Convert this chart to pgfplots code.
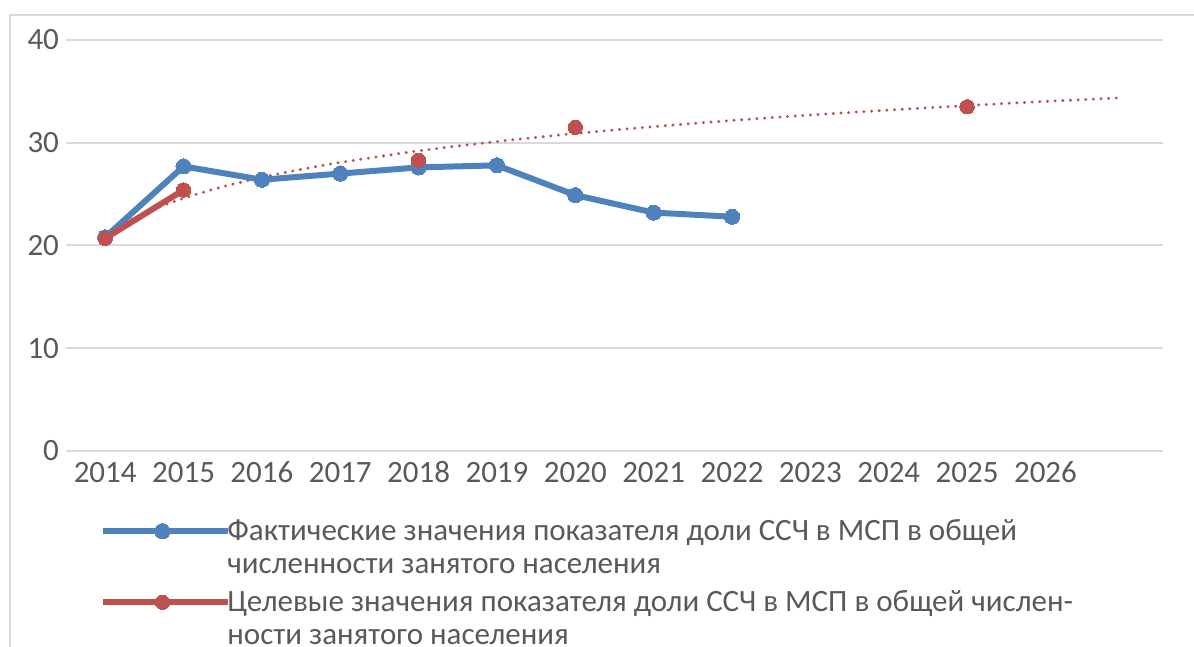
\documentclass[border=0pt]{standalone}
\usepackage{pgfplots}
\pgfplotsset{compat=1.18}
\usepackage{fontspec}
\setmainfont{Carlito}
\definecolor{txt}{HTML}{595959}
\definecolor{gridc}{HTML}{D9D9D9}
\definecolor{blue1}{HTML}{4F81BD}
\definecolor{red1}{HTML}{C0504D}
\begin{document}
\begin{tikzpicture}
\useasboundingbox (0,0) rectangle (597pt,323.5pt);
\draw[gridc, line width=1pt] (5pt,0) -- (5pt,316pt) -- (597pt,316pt);
\begin{axis}[
  at={(33pt,98pt)}, anchor=south west,
  scale only axis, width=548.5pt, height=205.5pt,
  xmin=-0.5, xmax=13.5, ymin=0, ymax=40,
  xtick={0,1,2,3,4,5,6,7,8,9,10,11,12},
  xticklabels={2014,2015,2016,2017,2018,2019,2020,2021,2022,2023,2024,2025,2026},
  ytick={0,10,20,30,40},
  axis line style={draw=none},
  major tick length=0pt,
  ymajorgrids, grid style={gridc, line width=1pt},
  tick label style={font=\fontsize{15.5}{18}\selectfont, text=txt},
  xticklabel style={text height=10pt, text depth=0pt, yshift=-2pt},
  /pgf/number format/assume math mode=true,
  clip=false,
  legend style={at={(axis description cs:0.0337,-0.1547)}, anchor=north west,
    draw=none, fill=none, inner sep=0pt,
    font=\fontsize{15.5}{16.5}\selectfont, text=txt,
    cells={anchor=west, align=left, inner xsep=0.5pt}, row sep=3pt},
  legend image code/.code={
    \path[draw=none, fill=none] (0pt,-12pt) rectangle (60pt,12pt);
    \draw[#1, overlay, mark repeat=2, mark phase=2] plot coordinates {(0pt,8.2pt) (29.5pt,8.2pt) (62.5pt,8.2pt)};},
]
% trend line (logarithmic)
\addplot[forget plot, red1, line width=1.65pt, line cap=round, dash pattern=on 0pt off 3.83pt, smooth] coordinates {
 (0,21.10) (0.25,22.22) (0.5,23.14) (0.75,23.92) (1,24.59) (1.5,25.72) (2,26.63) (2.5,27.41)
 (3,28.08) (4,29.21) (5,30.12) (6,30.90) (7,31.57) (8,32.17) (9,32.70) (10,33.18)
 (11,33.62) (12,34.02) (13,34.39)};
\addplot[blue1, line width=3pt, mark=*, mark size=3.8pt, mark options={fill=blue1, draw=blue1, line width=0pt}] coordinates {
 (0,20.8) (1,27.7) (2,26.4) (3,27.0) (4,27.6) (5,27.8) (6,24.9) (7,23.2) (8,22.8)};
\addlegendentry{Фактические значения показателя доли ССЧ в МСП в общей\\численности занятого населения}
\addplot[red1, line width=3pt, mark=*, mark size=3.6pt, mark options={fill=red1, draw=red1, line width=0pt}, unbounded coords=jump] coordinates {
 (0,20.7) (1,25.4) (2,nan) (4,28.3) (5,nan) (6,31.5) (7,nan) (11,33.5)};
\addlegendentry{Целевые значения показателя доли ССЧ в МСП в общей числен-\\ности занятого населения}
\end{axis}
\end{tikzpicture}
\end{document}
